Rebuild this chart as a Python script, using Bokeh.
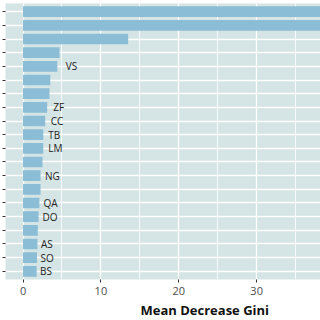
from bokeh.plotting import figure
from bokeh.models import Range1d, FixedTicker, ColumnDataSource, Title, CustomJSTickFormatter
from bokeh.embed import file_html
from bokeh.resources import INLINE

# data (top to bottom)
codes = ["", "", "", "", "VS", "", "", "ZF", "CC", "TB",
         "LM", "", "NG", "", "QA", "DO", "", "AS", "SO", "BS"]
gini = [45.0, 41.0, 13.5, 4.7, 4.4, 3.5, 3.4, 3.1, 2.85, 2.6,
        2.6, 2.5, 2.25, 2.25, 2.1, 2.0, 1.9, 1.85, 1.8, 1.75]
x_ticks = [0, 10, 20, 30]
x_title = "Mean Decrease Gini"

n = len(gini)
ypos = [n - i for i in range(n)]

PANEL = "#d5e4e4"
BAR = "#8bbdd6"
FONT = "Open Sans"

p = figure(width=320, height=320, output_backend="svg", toolbar_location=None,
           x_range=Range1d(-2.25, 38.2), y_range=Range1d(0.4, n + 0.6),
           min_border_left=5, min_border_right=0, min_border_top=3,
           min_border_bottom=41)
p.background_fill_color = PANEL
p.border_fill_color = "white"
p.outline_line_color = None

p.xaxis.ticker = FixedTicker(ticks=x_ticks, minor_ticks=[t + 5 for t in x_ticks])
p.xaxis.axis_line_color = None
p.xaxis.major_tick_line_color = "#333333"
p.xaxis.major_tick_out = 3
p.xaxis.major_tick_in = 0
p.xaxis.minor_tick_line_color = None
p.xaxis.major_label_text_font = FONT
p.xaxis.major_label_text_font_size = "11px"
p.xaxis.major_label_text_color = "#4d4d4d"
p.xaxis.major_label_standoff = 3

p.yaxis.ticker = FixedTicker(ticks=ypos)
p.yaxis.axis_line_color = None
p.yaxis.major_tick_line_color = "#333333"
p.yaxis.major_tick_out = 3
p.yaxis.major_tick_in = 0
p.yaxis.minor_tick_line_color = None
p.yaxis.formatter = CustomJSTickFormatter(code="return ''")
p.yaxis.major_label_text_font_size = "0px"
p.yaxis.major_label_standoff = 0

p.xgrid.grid_line_color = "white"
p.xgrid.grid_line_width = 1.3
p.xgrid.minor_grid_line_color = "white"
p.xgrid.minor_grid_line_width = 0.8
p.ygrid.ticker = FixedTicker(ticks=ypos)
p.ygrid.grid_line_color = "white"
p.ygrid.grid_line_width = 1.3

src = ColumnDataSource(dict(y=ypos, v=gini))
p.hbar(y="y", right="v", left=0, height=0.78, source=src,
       fill_color=BAR, line_color=None)

lab = [(y, g * 1.25, c) for y, g, c in zip(ypos, gini, codes) if c]
lsrc = ColumnDataSource(dict(y=[a[0] for a in lab], tx=[a[1] for a in lab],
                             code=[a[2] for a in lab]))
p.text(x="tx", y="y", text="code", source=lsrc, text_font_size="10px",
       text_baseline="middle", text_align="left", text_color="#222222",
       text_font={"value": FONT})

p.add_layout(Title(text=x_title, text_font=FONT, text_font_style="bold",
                   text_font_size="13px", align="left", offset=135,
                   standoff=2, text_color="#111111"), "below")

open("out.html", "w").write(file_html(p, INLINE))
